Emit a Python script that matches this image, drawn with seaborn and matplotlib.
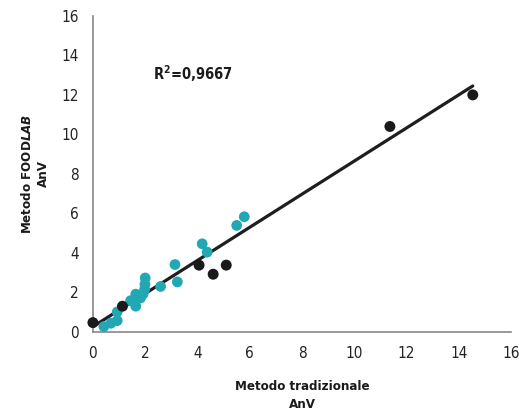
import numpy as np
import pandas as pd
import matplotlib
matplotlib.use("Agg")
import matplotlib.pyplot as plt
import seaborn as sns

# punti neri (campioni)
black_x = [0.0, 1.13, 4.06, 4.6, 5.1, 11.36, 14.53]
black_y = [0.47, 1.3, 3.38, 2.92, 3.38, 10.4, 12.0]

# punti azzurri
teal_x = [0.42, 0.69, 0.93, 0.93, 1.44, 1.64, 1.64, 1.82, 1.92, 1.98, 1.99, 2.0,
          2.59, 3.14, 3.23, 4.18, 4.37, 5.5, 5.79]
teal_y = [0.27, 0.44, 0.57, 1.01, 1.58, 1.91, 1.3, 1.72, 1.92, 2.16, 2.41, 2.73,
          2.3, 3.41, 2.53, 4.46, 4.04, 5.39, 5.83]

ticks = [0, 2, 4, 6, 8, 10, 12, 14, 16]
r2_text = "R$^{2}$=0,9667"

sns.set_style("white")
plt.rcParams["font.family"] = ["DejaVu Sans"]
plt.rcParams["font.stretch"] = "condensed"
plt.rcParams["mathtext.fontset"] = "custom"
plt.rcParams["mathtext.rm"] = "DejaVu Sans:bold:stretch=condensed"
plt.rcParams["mathtext.it"] = "DejaVu Sans:italic:bold:stretch=condensed"
plt.rcParams["mathtext.bf"] = "DejaVu Sans:bold:stretch=condensed"

df_all = pd.DataFrame({"x": black_x + teal_x, "y": black_y + teal_y})

fig = plt.figure(figsize=(5.19, 4.18), dpi=100)
ax = fig.add_axes([0.179, 0.206, 0.806, 0.756])

sns.regplot(data=df_all, x="x", y="y", scatter=False, ci=None, truncate=True,
            line_kws={"color": "#1e1e1e", "lw": 2.3}, ax=ax)
ax.scatter(teal_x, teal_y, s=60, color="#22a8b4", edgecolor="none", zorder=3, clip_on=False)
ax.scatter(black_x, black_y, s=62, color="#1a1a1a", edgecolor="none", zorder=4, clip_on=False)

ax.set_xlim(0, 16)
ax.set_ylim(0, 16)
ax.set_xticks(ticks)
ax.set_yticks(ticks)
ax.tick_params(axis="both", direction="out", length=4, width=1, color="#888888",
               labelsize=11, labelcolor="#222222", pad=6)
for side in ["top", "right"]:
    ax.spines[side].set_visible(False)
for side in ["left", "bottom"]:
    ax.spines[side].set_color("#888888")
    ax.spines[side].set_linewidth(1.2)

ax.text(2.3, 13.1, r2_text, fontsize=10.5, fontweight="bold", color="#1a1a1a",
        ha="left", va="center")

ax.set_xlabel("Metodo tradizionale\nAnV", fontsize=9.5, fontweight="bold",
              color="#1a1a1a", labelpad=14, linespacing=1.45)
ax.set_ylabel("Metodo FOOD$\\it{LAB}$\nAnV", fontsize=9.5, fontweight="bold",
              color="#1a1a1a", labelpad=8, linespacing=1.3)

fig.savefig("out.png", dpi=100)
